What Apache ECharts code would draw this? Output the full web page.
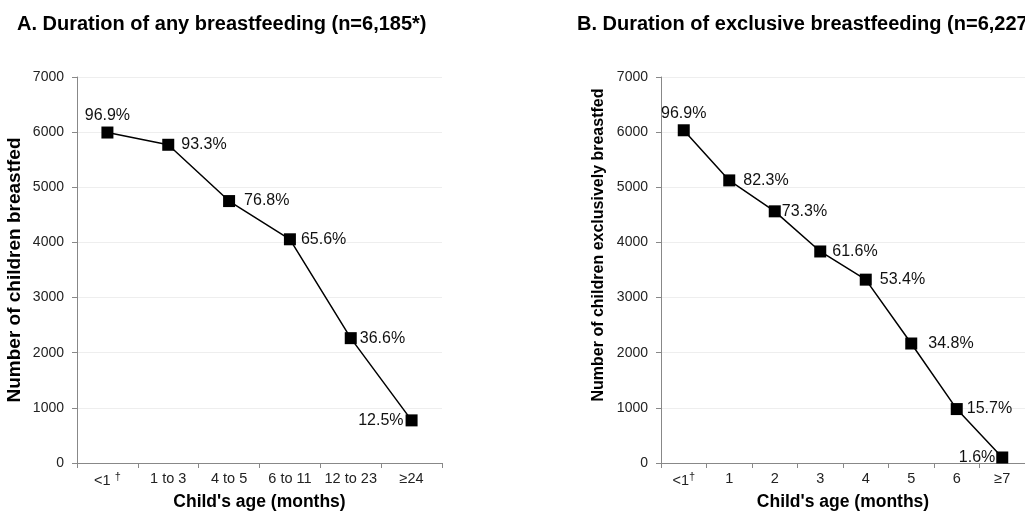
<!DOCTYPE html>
<html>
<head>
<meta charset="utf-8">
<script src="https://cdn.jsdelivr.net/npm/echarts@6/dist/echarts.min.js"></script>
<style>
  html, body { margin: 0; padding: 0; background: #fff; }
  #chart { width: 1025px; height: 514px; }
</style>
</head>
<body>
<div id="chart"></div>
<script>
// panel A: any breastfeeding
const catsA = ['<1', '1 to 3', '4 to 5', '6 to 11', '12 to 23', '≥24'];
const countsA = [5993, 5771, 4750, 4057, 2264, 773];
const pctA = ['96.9%', '93.3%', '76.8%', '65.6%', '36.6%', '12.5%'];

// panel B: exclusive breastfeeding
const catsB = ['<1', '1', '2', '3', '4', '5', '6', '≥7'];
const countsB = [6034, 5125, 4564, 3836, 3325, 2167, 978, 100];
const pctB = ['96.9%', '82.3%', '73.3%', '61.6%', '53.4%', '34.8%', '15.7%', '1.6%'];

const yTicks = [0, 7000, 1000];

// where each percent label sits next to its marker
const labelPosA = ['top', 'right', 'right', 'right', 'right', 'left'];
const labelGapA = [3, 7, 9, 5, 3, 2];
const labelPosB = ['top', 'right', 'right', 'right', 'right', 'right', 'right', 'left'];
const labelGapB = [3, 8, 1, 6, 8, 11, 4, 1];

const chart = echarts.init(document.getElementById('chart'));
const font = 'Liberation Sans, Arial, sans-serif';

function xAxis(cats, grid, spaced) {
  return {
    type: 'category', gridIndex: grid, data: cats,
    name: "Child's age (months)", nameLocation: 'middle', nameGap: 30,
    nameTextStyle: { fontFamily: font, fontSize: 17.5, fontWeight: 'bold', color: '#000' },
    axisLine: { lineStyle: { color: '#888', width: 1 } },
    axisTick: { show: true, length: 5, lineStyle: { color: '#888' } },
    axisLabel: {
      interval: 0, fontFamily: font, fontSize: 14.5, color: '#222', margin: 8,
      formatter: function (v) {
        if (v === '<1') return spaced ? '{a|<1 }{s|†}' : '{a|<1}{s|†}';
        return v;
      },
      rich: {
        a: { fontFamily: font, fontSize: 14.5, color: '#222' },
        s: { fontFamily: font, fontSize: 11, color: '#222', verticalAlign: 'top', padding: [0, 0, 8, 0] }
      }
    }
  };
}

function yAxis(name, grid, size, gap, pad) {
  return {
    type: 'value', gridIndex: grid, min: yTicks[0], max: yTicks[1], interval: yTicks[2],
    name: name, nameLocation: 'middle', nameGap: gap, nameRotate: 90,
    nameTextStyle: { fontFamily: font, fontSize: size, fontWeight: 'bold', color: '#000', padding: pad },
    axisLine: { show: true, lineStyle: { color: '#888', width: 1 } },
    axisTick: { show: true, length: 5, lineStyle: { color: '#888' } },
    axisLabel: { fontFamily: font, fontSize: 14, color: '#222', margin: 13,
      formatter: function (v) { return String(v); } },
    splitLine: { lineStyle: { color: '#eeeeee' } }
  };
}

function series(counts, pct, pos, gap, idx) {
  return {
    type: 'line', xAxisIndex: idx, yAxisIndex: idx,
    data: counts.map(function (v, i) {
      return { value: v, label: { position: pos[i], distance: gap[i], formatter: pct[i] } };
    }),
    symbol: 'rect', symbolSize: 12,
    itemStyle: { color: '#000' },
    lineStyle: { color: '#000', width: 1.5 },
    label: { show: true, fontFamily: font, fontSize: 16, color: '#111' },
    animation: false
  };
}

chart.setOption({
  backgroundColor: '#fff',
  title: [
    { text: 'A. Duration of any breastfeeding (n=6,185*)', left: 12, top: 9,
      textStyle: { fontFamily: font, fontSize: 20, fontWeight: 'bold', color: '#000' } },
    { text: 'B. Duration of exclusive breastfeeding (n=6,227*)', left: 572, top: 9,
      textStyle: { fontFamily: font, fontSize: 20, fontWeight: 'bold', color: '#000' } }
  ],
  grid: [
    { left: 77, top: 77, width: 365, height: 386, outerBoundsMode: 'none' },
    { left: 661, top: 77, width: 364, height: 386, outerBoundsMode: 'none' }
  ],
  xAxis: [xAxis(catsA, 0, true), xAxis(catsB, 1, false)],
  yAxis: [
    yAxis('Number of children breastfed', 0, 19, 53, 0),
    yAxis('Number of children exclusively breastfed', 1, 16, 54, [0, 0, 0, 50])
  ],
  series: [series(countsA, pctA, labelPosA, labelGapA, 0), series(countsB, pctB, labelPosB, labelGapB, 1)]
});
</script>
</body>
</html>
